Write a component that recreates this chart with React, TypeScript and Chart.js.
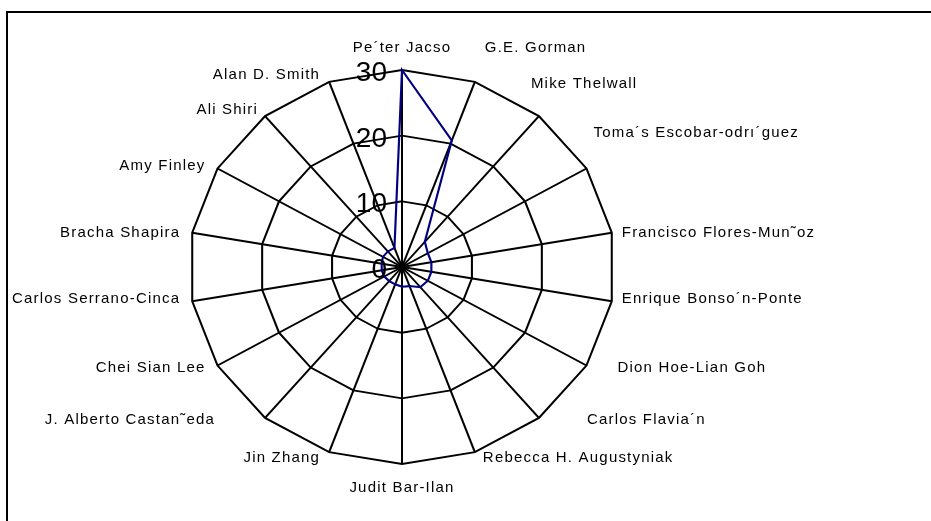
import React, { useEffect, useRef } from "react";
import { Chart, registerables } from "chart.js";

Chart.register(...registerables);

const authors: string[] = [
  "Pe´ter Jacso",
  "G.E. Gorman",
  "Mike Thelwall",
  "Toma´s Escobar-odrı´guez",
  "Francisco Flores-Mun˜oz",
  "Enrique Bonso´n-Ponte",
  "Dion Hoe-Lian Goh",
  "Carlos Flavia´n",
  "Rebecca H. Augustyniak",
  "Judit Bar-Ilan",
  "Jin Zhang",
  "J. Alberto Castan˜eda",
  "Chei Sian Lee",
  "Carlos Serrano-Cinca",
  "Bracha Shapira",
  "Amy Finley",
  "Ali Shiri",
  "Alan D. Smith",
];

const counts: number[] = [30, 20.5, 5, 4.2, 4.2, 4.2, 4.2, 4, 3.1, 3, 2.8, 2.8, 2.9, 2.9, 2.9, 3.1, 3.1, 3.1];

const axisMin = 0;
const axisMax = 30;
const axisStep = 10;

// horizontal stretch of the radar (reference is slightly elliptical)
const SX = 213 / 197;

// per-label text nudges [dx, dy] in px
const labelNudge: [number, number][] = [
  [0, 0],
  [0, -34],
  [-18, -32],
  [-3, -36],
  [0, 0],
  [0, -2],
  [21, 2],
  [38, 2],
  [-2, 6],
  [0, 1],
  [3, 6],
  [-38, 2],
  [0, 2],
  [0, -2],
  [0, 0],
  [0, -3],
  [5, -6],
  [3, -7],
];

export default function App() {
  const ref = useRef<HTMLCanvasElement>(null);

  useEffect(() => {
    const canvas = ref.current;
    if (!canvas) return;

    const ellipsePlugin = {
      id: "ellipse",
      beforeDraw(chart: any) {
        const s = chart.scales.r;
        const ctx = chart.ctx;
        ctx.save();
        ctx.translate(s.xCenter, 0);
        ctx.scale(SX, 1);
        ctx.translate(-s.xCenter, 0);
      },
      afterDatasetsDraw(chart: any) {
        chart.ctx.restore();
      },
      afterDraw(chart: any) {
        const s = chart.scales.r;
        const ctx = chart.ctx as CanvasRenderingContext2D;
        ctx.save();
        ctx.fillStyle = "#000";
        // tick labels
        ctx.font = '28px "Liberation Sans", Arial, sans-serif';
        (ctx as any).letterSpacing = "0px";
        ctx.textAlign = "right";
        ctx.textBaseline = "alphabetic";
        s.ticks.forEach((t: any) => {
          const d = s.getDistanceFromCenterForValue(t.value);
          ctx.fillText(String(t.value), s.xCenter - 15, s.yCenter - d + 11);
        });
        // point labels
        ctx.font = '15px "Liberation Sans", Arial, sans-serif';
        (ctx as any).letterSpacing = "1.2px";
        ctx.textBaseline = "middle";
        authors.forEach((name, i) => {
          const p = s.getPointPosition(i, s.drawingArea);
          const x = s.xCenter + (p.x - s.xCenter) * SX;
          const y = p.y;
          const dx = x - s.xCenter;
          let tx = x;
          let ty = y;
          let align: CanvasTextAlign = "center";
          if (Math.abs(dx) < 1) {
            align = "center";
            ty = y < s.yCenter ? y - 22 : y + 23;
          } else if (dx > 0) {
            align = "left";
            tx = x + 10;
          } else {
            align = "right";
            tx = x - 12;
          }
          const [nx, ny] = labelNudge[i];
          ctx.textAlign = align;
          ctx.fillText(name, tx + nx, ty + ny);
        });
        ctx.restore();
      },
    };

    const chart = new Chart(canvas, {
      type: "radar",
      data: {
        labels: authors,
        datasets: [
          {
            data: counts,
            borderColor: "#000080",
            borderWidth: 2,
            fill: false,
            pointRadius: 0,
            pointHoverRadius: 0,
            tension: 0,
            clip: false as any,
          } as any,
        ],
      },
      options: {
        responsive: false,
        animation: false,
        devicePixelRatio: 1,
        events: [],
        layout: { padding: { left: 205, top: 70, right: 332, bottom: 57 } },
        plugins: {
          legend: { display: false },
          tooltip: { enabled: false },
          title: { display: false },
        },
        scales: {
          r: {
            min: axisMin,
            max: axisMax,
            startAngle: 0,
            ticks: { display: false, stepSize: axisStep },
            grid: { circular: false, color: "#000", lineWidth: 1.9 },
            angleLines: { display: true, color: "#000", lineWidth: 1.9 },
            pointLabels: { display: false },
          },
        },
      } as any,
      plugins: [ellipsePlugin],
    });

    return () => chart.destroy();
  }, []);

  return (
    <div style={{ position: "fixed", left: 0, top: 0, width: 931, height: 521, background: "#fff" }}>
      <canvas ref={ref} width={931} height={521} style={{ position: "absolute", left: 0, top: 0 }} />
      <div
        style={{
          position: "absolute",
          left: 6,
          top: 11,
          right: 0,
          bottom: 0,
          borderTop: "2px solid #000",
          borderLeft: "2px solid #000",
          pointerEvents: "none",
        }}
      />
    </div>
  );
}
